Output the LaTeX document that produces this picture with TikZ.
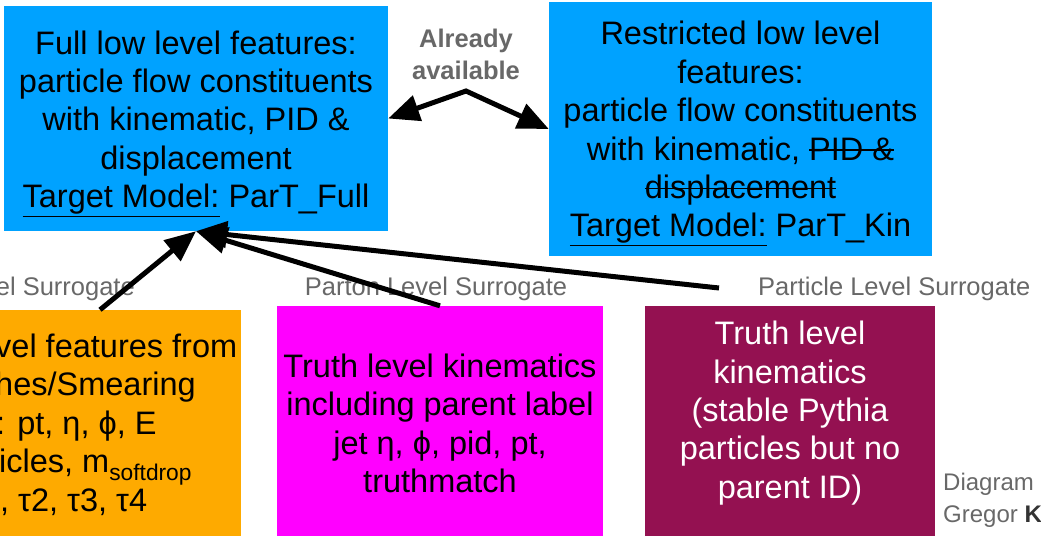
\documentclass[tikz,border=0pt]{standalone}
\usepackage{fontspec}
\setmainfont{Liberation Sans}
\usetikzlibrary{arrows.meta}
\definecolor{keyblue}{RGB}{0,162,255}
\definecolor{amber}{RGB}{254,170,0}
\definecolor{partonpink}{RGB}{255,0,255}
\definecolor{plum}{RGB}{148,17,81}
\definecolor{labelgray}{RGB}{104,104,104}
\newcommand{\strikeout}[1]{\sbox0{#1}\rlap{\rule[0.28em]{\wd0}{1.8pt}}\usebox0}
\begin{document}
\begin{tikzpicture}[x=1pt,y=-1pt,
    panel/.style={inner sep=0pt},
    box/.style={inner sep=0pt,align=center,font=\fontsize{32.5}{38.4}\selectfont},
    lbl/.style={inner sep=0pt,text=labelgray,font=\fontsize{25.5}{32}\selectfont},
    arr/.style={line width=5pt,-{Triangle[length=31pt,width=26pt]}}]
  \useasboundingbox (0,0) rectangle (1041,536);
  \clip (0,0) rectangle (1041,536);

  \node[panel,fill=keyblue,minimum width=384,minimum height=225] (full) at (196,118.5) {};
  \node[box] (fulltext) at (196,123.5)
    {Full low level features:\\particle flow constituents\\with kinematic, PID \&\\displacement\\\underline{Target Model:} ParT\_Full};
  \node[panel,fill=keyblue,minimum width=383,minimum height=254] (restricted) at (740.5,129) {};
  \node[box] (restrictedtext) at (740.5,133.5)
    {Restricted low level\\features:\\particle flow constituents\\with kinematic, \strikeout{PID \&}\\\strikeout{displacement}\\\underline{Target Model:} ParT\_Kin};

  \node[panel,fill=amber,minimum width=282,minimum height=226] (detector) at (100,423) {};
  \node[box,align=left,anchor=west] (detectortext) at (-1,424.5)
    {\hspace*{-4pt}vel features from\\\hspace*{-4pt}hes/Smearing\\\hspace*{-3pt}: pt, η, ϕ, E\\icles, m\textsubscript{softdrop}\\\hspace*{1pt}, τ2, τ3, τ4};
  \node[panel,fill=partonpink,minimum width=326,minimum height=230] (parton) at (440,421) {};
  \node[box] (partontext) at (440,423.5)
    {Truth level kinematics\\including parent label\\jet η, ϕ, pid, pt,\\truthmatch};
  \node[panel,fill=plum,minimum width=290,minimum height=230] (particle) at (790,421) {};
  \node[box,text=white] (particletext) at (790,413)
    {Truth level\\kinematics\\(stable Pythia\\particles but no\\parent ID)};

  \node[lbl,anchor=east] (detectorlbl) at (135,288.5) {el Surrogate};
  \node[lbl] (partonlbl) at (436,288.5) {Parton Level Surrogate};
  \node[lbl,anchor=west] (particlelbl) at (758,288.5) {Particle Level Surrogate};
  \node[lbl,align=center,font=\bfseries\fontsize{25.5}{32}\selectfont] (avail) at (466,54)
    {Already\\available};
  \node[lbl,align=left,anchor=north west,font=\fontsize{24}{32}\selectfont] (credit) at (943,473)
    {Diagram\\Gregor \textcolor{black!80}{\bfseries K}};

  \coordinate (peak) at (466,91);
  \coordinate (particletail) at (719,288);
  \draw[arr,{Triangle[length=31pt,width=26pt]}-{Triangle[length=31pt,width=26pt]}]
    (full.east) -- (peak) -- (restricted.west);
  \draw[arr] (detector.north) -- (full.south);
  \draw[arr] (parton.north) -- (full.south);
  \draw[arr] (particletail) -- (full.south);
\end{tikzpicture}
\end{document}
